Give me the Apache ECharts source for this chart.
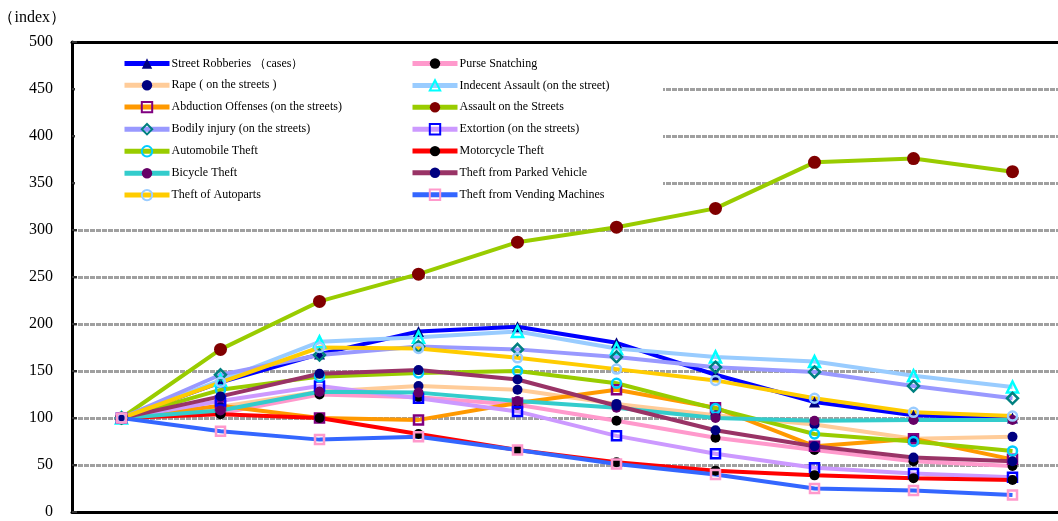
<!DOCTYPE html>
<html>
<head>
<meta charset="utf-8">
<script src="https://cdn.jsdelivr.net/npm/echarts@6/dist/echarts.min.js"></script>
<style>html,body{margin:0;padding:0;background:#fff;}#c{width:1058px;height:521px;}</style>
</head>
<body>
<div id="c"></div>
<script>
const categories = ['P1','P2','P3','P4','P5','P6','P7','P8','P9','P10'];
const yTicks = [0,50,100,150,200,250,300,350,400,450,500];

const streetRobberies = [100,138,168,192,197,180,146,117,103,100];
const purseSnatching  = [100,105,125,122,114,97,79,66,54,49];
const rape            = [100,112,128,134,130,115,103,93,78,80];
const indecentAssault = [100,140,181,186,192,174,165,160,145,133];
const abduction       = [100,113,100,98,116,130,111,70,78,56];
const assault         = [100,173,224,253,287,303,323,372,376,362];
const bodilyInjury    = [100,146,167,176,173,165,154,149,134,121];
const extortion       = [100,118,134,121,107,81,62,47,41,37];
const automobileTheft = [100,130,144,148,150,137,110,83,75,65];
const motorcycleTheft = [100,104,100,83,66,53,44,39,36,34];
const bicycleTheft    = [100,108,128,127,118,111,100,97,98,98];
const parkedVehicle   = [100,123,147,151,141,113,87,70,58,54];
const autoparts       = [100,138,175,174,164,152,140,121,106,102];
const vending         = [100,86,77,80,66,51,40,25,23,18];

const names = [
  'Street Robberies （cases）','Purse Snatching',
  'Rape ( on the streets )','Indecent Assault (on the street)',
  'Abduction Offenses (on the streets)','Assault on the Streets',
  'Bodily injury (on the streets)','Extortion (on the streets)',
  'Automobile Theft','Motorcycle Theft',
  'Bicycle Theft','Theft from Parked Vehicle',
  'Theft of Autoparts','Theft from Vending Machines'
];
const datas = [streetRobberies,purseSnatching,rape,indecentAssault,abduction,assault,
  bodilyInjury,extortion,automobileTheft,motorcycleTheft,bicycleTheft,parkedVehicle,autoparts,vending];

const T = 'rgba(0,0,0,0)';
// [lineColor, symbol, size, fill, border]
const styles = [
  ['#0000FF','triangle',11,'#000080','#000080'],
  ['#FF99CC','circle',10,'#000000','#000000'],
  ['#FFCC99','circle',10,'#000080','#000080'],
  ['#99CCFF','triangle',11,T,'#00FFFF'],
  ['#FF9900','rect',9,T,'#800080'],
  ['#99CC00','circle',13,'#800000','#800000'],
  ['#9999FF','diamond',11,T,'#008080'],
  ['#CC99FF','rect',9,T,'#0000FF'],
  ['#99CC00','circle',9,T,'#00CCFF'],
  ['#FF0000','circle',10,'#000000','#000000'],
  ['#33CCCC','circle',10,'#660066','#660066'],
  ['#993366','circle',10,'#000080','#000080'],
  ['#FFCC00','circle',9,T,'#99CCFF'],
  ['#3366FF','rect',9,T,'#FF99CC']
];

const series = names.map((n,i)=>{
  const s = styles[i];
  const hollow = s[3]===T;
  return {
    name:n, type:'line', data:datas[i], xAxisIndex:0,
    symbol:s[1], symbolSize:s[2],
    lineStyle:{color:s[0], width:4},
    itemStyle:{color:hollow?T:s[3], borderColor:s[4], borderWidth:hollow?2.5:0},
    emphasis:{disabled:true},
    z: 2
  };
});

const serif = '"Liberation Serif","Times New Roman",serif';
const legendCommon = {
  orient:'vertical', itemWidth:45, itemHeight:13, itemGap:9.7, padding:0,
  lineStyle:{width:5},
  textStyle:{fontFamily:serif, fontSize:12, color:'#000', padding:[0,0,0,-3]},
  selectedMode:false
};

const chart = echarts.init(document.getElementById('c'));
chart.setOption({
  animation:false,
  grid:{left:72, top:42, width:990, height:470, show:false, containLabel:false, outerBoundsMode:'none'},
  graphic:[{type:'rect', z:1, shape:{x:75, y:44, width:588, height:170}, style:{fill:'#fff'}}],
  legend:[
    Object.assign({left:122, top:57.5, data:names.filter((_,i)=>i%2===0)}, legendCommon),
    Object.assign({left:410, top:57.5, data:names.filter((_,i)=>i%2===1)}, legendCommon)
  ],
  xAxis:[
    {type:'category', data:categories, boundaryGap:true, position:'bottom',
      axisLine:{lineStyle:{color:'#000', width:3}}, axisTick:{show:false}, axisLabel:{show:false}, splitLine:{show:false}},
    {type:'category', data:categories, boundaryGap:true, position:'top',
      axisLine:{lineStyle:{color:'#000', width:3}}, axisTick:{show:false}, axisLabel:{show:false}, splitLine:{show:false}}
  ],
  yAxis:{type:'value', min:yTicks[0], max:yTicks[yTicks.length-1], interval:50,
    name:'（index）', nameLocation:'end', nameGap:16,
    nameTextStyle:{fontFamily:serif, fontSize:16, color:'#000', align:'right', padding:[0,6,0,0]},
    axisLine:{show:true, lineStyle:{color:'#000', width:3}},
    axisTick:{show:true, inside:true, length:5, lineStyle:{color:'#333', width:2}},
    axisLabel:{fontFamily:serif, fontSize:16, color:'#000', margin:19},
    splitLine:{show:true, lineStyle:{color:'#a0a0a0', width:3, type:[5,1]}}},
  series:series
});
</script>
</body>
</html>
